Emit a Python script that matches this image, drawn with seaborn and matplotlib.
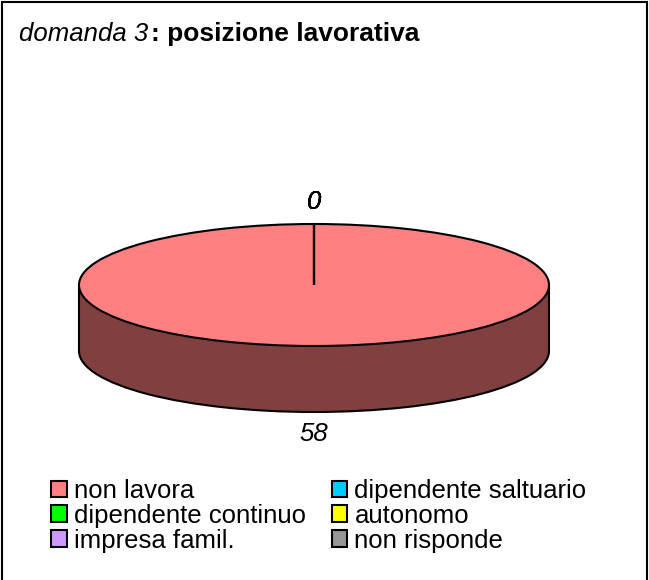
import numpy as np
import matplotlib
matplotlib.use("Agg")
import matplotlib.pyplot as plt
from matplotlib.patches import Rectangle
import seaborn as sns

# legend is filled column by column, so this is the column order
categories = ["non lavora", "dipendente continuo", "impresa famil.",
              "dipendente saltuario", "autonomo", "non risponde"]
values = [58, 0, 0, 0, 0, 0]
colors = ["#FF8080", "#00FF00", "#CC99FF", "#00CCFF", "#FFFF00", "#969696"]
title_left = "domanda 3"
title_right = ": posizione lavorativa"

W, H = 649, 580
cx, cy = 314, 285      # pie centre in pixels
rx, ry = 235, 61       # ellipse radii in pixels
depth = 66 / ry        # height of the side, in pie units

sns.set_theme(style="white")
plt.rcParams["font.family"] = ["Liberation Sans", "DejaVu Sans"]

fig = plt.figure(figsize=(W / 100, H / 100), dpi=100, facecolor="white")
ax = fig.add_axes([0, 0, 1, 1])

dark = [tuple(c * 0.5 for c in sns.color_palette([col])[0]) for col in colors]

# side of the disc
ax.pie(values, colors=dark, startangle=90, counterclock=False, center=(0, -depth), radius=1,
       wedgeprops={"edgecolor": "black", "linewidth": 1.5, "zorder": 1})
ax.fill_between([-1, 1], -depth, 0, color=dark[0], linewidth=0, zorder=2)
ax.vlines([-1, 1], -depth, 0, color="black", linewidth=1.5, zorder=3)

# top of the disc
wedges, _ = ax.pie(values, colors=colors, startangle=90, counterclock=False, center=(0, 0), radius=1,
                   wedgeprops={"edgecolor": "black", "linewidth": 1.5, "zorder": 4})

# the pie call forces equal aspect, undo it to get the flat ellipse
ax.set_aspect("auto")
ax.set_xlim(-cx / rx, (W - cx) / rx)
ax.set_ylim(-(H - cy) / ry, cy / ry)
ax.axis("off")

# value labels, all the zero slices land on top of each other
total = sum(values)
start = 0
for v in values:
    ang = np.deg2rad(90 - 360 * (start + v / 2) / total)
    start += v
    s = np.sin(ang)
    y = 1.36 * s if s > 0 else 1.0 * s * 1.36 - depth
    ax.text(np.cos(ang), y, str(v), style="italic", fontsize=18.5, color="black",
            ha="center", va="center", zorder=5)

fig.text(19 / W, 1 - 34 / H, title_left, style="italic", fontsize=18.5, color="black", va="center", ha="left")
fig.text(151 / W, 1 - 34 / H, title_right, weight="bold", fontsize=19, color="black", va="center", ha="left")

leg = ax.legend(wedges, categories, ncol=2, loc="upper left",
                bbox_to_anchor=(51 / W, 1 - 479 / H), frameon=False, fontsize=18.5,
                handlelength=0.62, handleheight=0.62, handletextpad=0.27,
                labelspacing=0.03, columnspacing=1.0, borderpad=0, borderaxespad=0)
for t in leg.get_texts():
    t.set_color("black")

# outer frame, the bottom edge falls outside the picture
fig.add_artist(Rectangle((2 / W, -4 / H), (W - 4) / W, (H + 2) / H, transform=fig.transFigure,
                         fill=False, edgecolor="black", linewidth=1.5))

fig.savefig("out.png", dpi=100)
